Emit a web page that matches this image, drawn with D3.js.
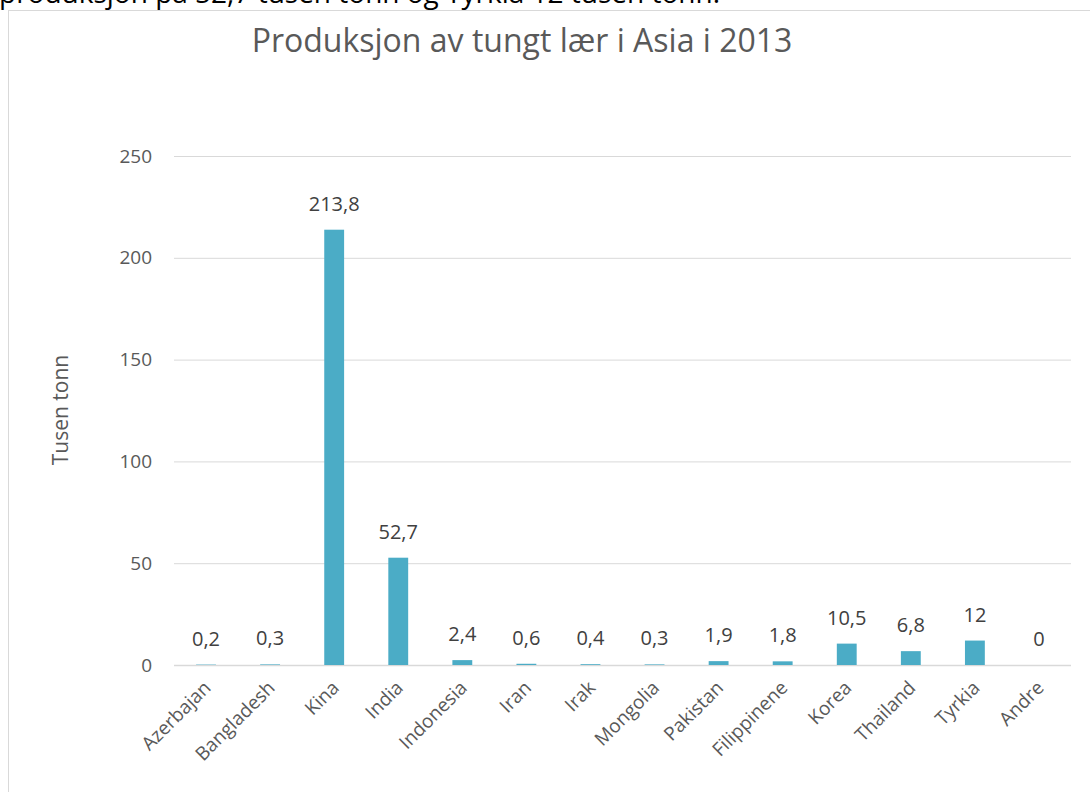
<!DOCTYPE html>
<html><head><meta charset="utf-8">
<script src="https://cdn.jsdelivr.net/npm/d3@7"></script>
<style>body{margin:0;background:#fff;overflow:hidden}text{font-family:"Open Sans",sans-serif}</style>
</head><body>
<svg id="c" width="1090" height="792"></svg>
<script>
const categories = ["Azerbajan","Bangladesh","Kina","India","Indonesia","Iran","Irak","Mongolia","Pakistan","Filippinene","Korea","Thailand","Tyrkia","Andre"];
const values = [0.2,0.3,213.8,52.7,2.4,0.6,0.4,0.3,1.9,1.8,10.5,6.8,12,0];
const labels = ["0,2","0,3","213,8","52,7","2,4","0,6","0,4","0,3","1,9","1,8","10,5","6,8","12","0"];
const yTicks = [0,50,100,150,200,250];
const title = "Produksjon av tungt lær i Asia i 2013";
const yTitle = "Tusen tonn";
const introText = "produksjon på 52,7 tusen tonn og Tyrkia 12 tusen tonn.";

const svg = d3.select("#c");
svg.append("rect").attr("x",8.5).attr("y",10.5).attr("width",1100).attr("height",800)
  .attr("fill","#fff").attr("stroke","#d9d9d9");
svg.append("text").attr("x",-1).attr("y",3).attr("font-size",28).attr("fill","#000").text(introText);

const x = d3.scaleBand().domain(categories).range([174,1071]).paddingInner(0.69).paddingOuter(0.345);
const y = d3.scaleLinear().domain([0,250]).range([665,156]);

svg.append("text").attr("x",522).attr("y",52).attr("text-anchor","middle")
  .attr("font-size",32).attr("fill","#595959").text(title);

const gy = svg.append("g").attr("transform","translate(174,0)")
  .call(d3.axisLeft(y).tickValues(yTicks).tickSize(-897).tickPadding(22));
gy.select(".domain").remove();
gy.selectAll(".tick line").attr("stroke","#d9d9d9").attr("stroke-width",1);
gy.selectAll(".tick text").attr("font-size",19).attr("fill","#595959").attr("font-family","'Open Sans',sans-serif");

svg.append("line").attr("x1",174).attr("x2",1071).attr("y1",y(0)+0.5).attr("y2",y(0)+0.5)
  .attr("stroke","#d9d9d9").attr("stroke-width",1.5);

svg.append("text").attr("transform",`translate(68,${410}) rotate(-90)`).attr("text-anchor","middle")
  .attr("font-size",21).attr("fill","#595959").text(yTitle);

svg.selectAll("rect.bar").data(values).join("rect").attr("class","bar")
  .attr("x",(d,i)=>x(categories[i])).attr("width",x.bandwidth())
  .attr("y",d=>y(d)).attr("height",d=>y(0)-y(d)).attr("fill","#4bacc6");

svg.selectAll("text.lbl").data(values).join("text").attr("class","lbl")
  .attr("x",(d,i)=>x(categories[i])+x.bandwidth()/2).attr("y",d=>y(d)-19)
  .attr("text-anchor","middle").attr("font-size",20).attr("fill","#404040")
  .text((d,i)=>labels[i]);

const gx = svg.append("g").attr("transform",`translate(0,${y(0)})`)
  .call(d3.axisBottom(x).tickSize(0).tickPadding(0));
gx.select(".domain").remove();
gx.selectAll(".tick text").attr("font-size",19).attr("fill","#595959")
  .attr("font-family","'Open Sans',sans-serif")
  .attr("text-anchor","end").attr("dy",0)
  .attr("transform","translate(6,24) rotate(-45)");
</script>
</body></html>
